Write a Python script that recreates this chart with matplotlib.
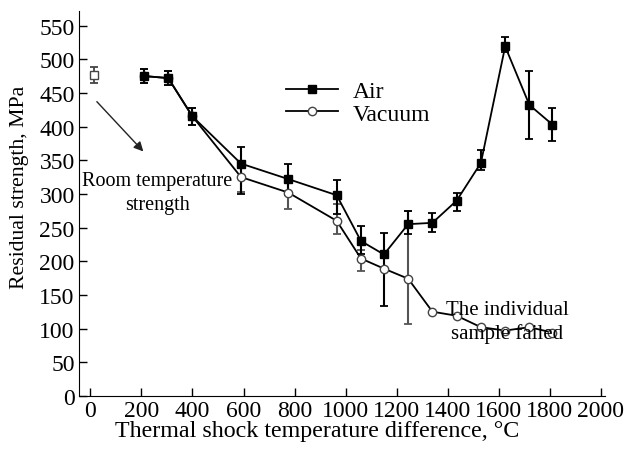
import numpy as np
import matplotlib.pyplot as plt
from matplotlib.lines import Line2D

plt.rcParams['font.family'] = ['Liberation Serif', 'DejaVu Serif']

# Air
t_air = [210, 305, 400, 590, 775, 965, 1060, 1150, 1245, 1340, 1435, 1530, 1625, 1720, 1810]
s_air = [475, 472, 415, 345, 322, 298, 230, 210, 255, 257, 290, 346, 519, 432, 403]
e_air_lo = [10, 10, 12, 45, 24, 28, 20, 77, 15, 14, 15, 11, 9, 50, 25]
e_air_hi = [10, 10, 12, 25, 23, 22, 22, 32, 20, 15, 12, 19, 14, 51, 24]

# Vacuum
t_vac = [210, 305, 400, 590, 775, 965, 1060, 1150, 1245, 1340, 1435, 1530, 1625, 1720, 1810]
s_vac = [475, 472, 415, 325, 302, 260, 204, 189, 174, 125, 119, 102, 97, 102, 94]
e_vac_lo = [10, 10, 12, 22, 24, 20, 18, 0, 67, 0, 0, 0, 0, 0, 0]
e_vac_hi = [10, 10, 12, 22, 20, 25, 12, 0, 100, 0, 0, 0, 0, 0, 0]

# room temperature strength
t_room = [15]
s_room = [476]
e_room = [12]

fig = plt.figure(figsize=(6.26, 4.52), dpi=100)
ax = fig.add_axes([0.126, 0.122, 0.84, 0.852])

ax.errorbar(t_vac, s_vac, yerr=[e_vac_lo, e_vac_hi], color='black', ecolor='#555555',
            elinewidth=1.5, capsize=3, capthick=1.3, marker='o', ms=6,
            mfc='white', mec='#444444', lw=1.3)
ax.errorbar(t_air, s_air, yerr=[e_air_lo, e_air_hi], color='black', ecolor='black',
            elinewidth=1.5, capsize=3, capthick=1.3, marker='s', ms=6,
            mfc='black', mec='black', lw=1.3)
ax.errorbar(t_room, s_room, yerr=e_room, color='#444444', elinewidth=1.3, capsize=3,
            capthick=1.3, marker='s', ms=6, mfc='white', mec='#444444', ls='none')

h_air = Line2D([], [], color='black', lw=1.3, marker='s', ms=6, mfc='black')
h_vac = Line2D([], [], color='black', lw=1.3, marker='o', ms=6, mfc='white', mec='#444444')
ax.legend([h_air, h_vac], ['Air', 'Vacuum'], loc='upper left', bbox_to_anchor=(0.372, 0.85),
          frameon=False, fontsize=17, handlelength=2.2, handletextpad=0.6,
          labelspacing=0.05, borderpad=0)

ax.annotate('', xy=(215, 360), xytext=(18, 440),
            arrowprops=dict(arrowstyle='-|>', color='#222222', lw=1, mutation_scale=14))
ax.text(262, 302, 'Room temperature\nstrength', ha='center', va='center', fontsize=14.5,
        linespacing=1.3)
ax.text(1633, 110, 'The individual\nsample failed', ha='center', va='center', fontsize=15,
        linespacing=1.3)

ax.set_xlim(-45, 2015)
ax.set_ylim(0, 572)
ax.set_xticks(np.arange(0, 2001, 200))
ax.set_yticks(np.arange(0, 551, 50))
ax.tick_params(direction='in', labelsize=17, length=6, width=1, pad=3)
ax.spines['top'].set_visible(False)
ax.spines['right'].set_visible(False)
ax.set_xlabel('Thermal shock temperature difference, °C', fontsize=17.3)
ax.set_ylabel('Residual strength, MPa', fontsize=15.7)
ax.xaxis.set_label_coords(0.454, -0.063)
ax.yaxis.set_label_coords(-0.094, 0.545)

plt.savefig('out.png', dpi=100)
